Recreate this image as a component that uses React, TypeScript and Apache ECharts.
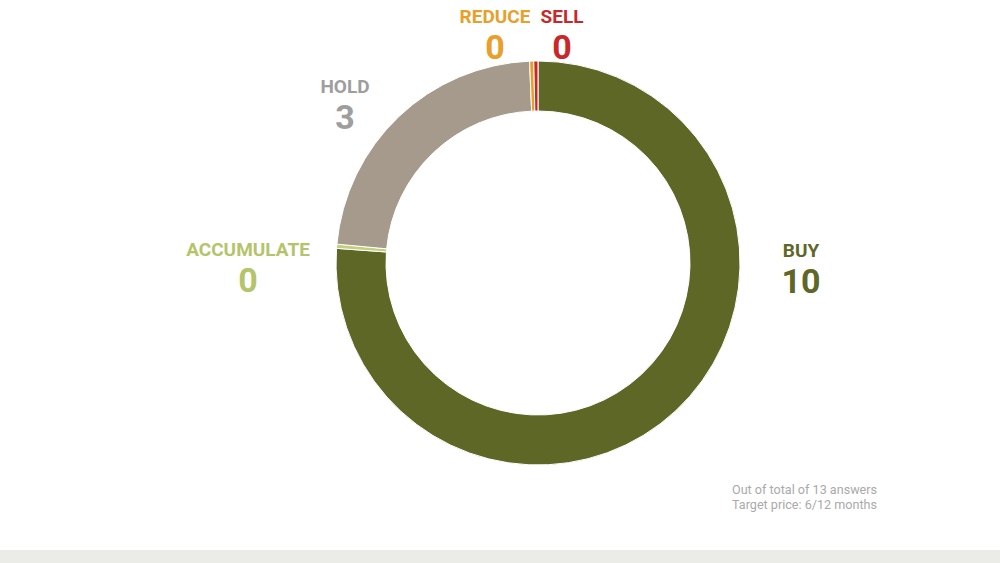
import { useEffect, useRef } from 'react';
import * as echarts from 'echarts';

// answers per recommendation, clockwise from 12 o'clock
const categories = ['BUY', 'ACCUMULATE', 'HOLD', 'REDUCE', 'SELL'];
const answers = [10, 0, 3, 0, 0];
const sliceColors = ['#5f6727', '#c3cf7d', '#a59a8b', '#e8a02a', '#c9282b'];
const labelColors = ['#5f6727', '#b5c46b', '#9e9e9e', '#e8a02a', '#c9282b'];
const footnotes = ['Out of total of 13 answers', 'Target price: 6/12 months'];

// where each label block sits (centre of name + value)
const labelSpots: [number, number][] = [
    [801, 269],
    [248, 268],
    [345, 105],
    [495, 35],
    [562, 35],
];

export default function App() {
    const chartRef = useRef<HTMLDivElement>(null);

    useEffect(() => {
        if (!chartRef.current) return;
        const chart = echarts.init(chartRef.current, null, { renderer: 'svg' });

        chart.setOption({
            animation: false,
            textStyle: { fontFamily: 'Roboto' },
            series: [{
                type: 'pie',
                center: [538, 263],
                radius: [152, 202],
                startAngle: 90,
                minAngle: 1.2,
                silent: true,
                itemStyle: { borderColor: '#ffffff', borderWidth: 1 },
                labelLine: { show: false },
                label: {
                    show: true,
                    position: 'outside',
                    formatter: '{n|{b}}\n{v|{c}}',
                    rich: {
                        n: { fontSize: 19, fontWeight: 'bold', lineHeight: 24, fontFamily: 'Roboto' },
                        v: { fontSize: 34, fontWeight: 'bold', lineHeight: 38, fontFamily: 'Roboto' },
                    },
                },
                labelLayout: (params: any) => ({
                    x: labelSpots[params.dataIndex][0],
                    y: labelSpots[params.dataIndex][1],
                    align: 'center',
                    verticalAlign: 'middle',
                }),
                data: categories.map((name, i) => ({
                    name,
                    value: answers[i],
                    itemStyle: { color: sliceColors[i] },
                    label: { color: labelColors[i] },
                })),
            }],
            graphic: [{
                type: 'text',
                left: 732,
                top: 482,
                style: {
                    text: footnotes.join('\n'),
                    fontSize: 12.6,
                    lineHeight: 15,
                    fill: '#aaaaaa',
                    fontFamily: 'Roboto',
                },
            }],
        });

        return () => {
            chart.dispose();
        };
    }, []);

    return (
        <div style={{ position: 'fixed', left: 0, top: 0, width: 1000, height: 563, background: '#ffffff' }}>
            <div ref={chartRef} style={{ width: 1000, height: 550 }} />
            <div style={{ width: 1000, height: 13, background: '#ebebe7' }} />
        </div>
    );
}
